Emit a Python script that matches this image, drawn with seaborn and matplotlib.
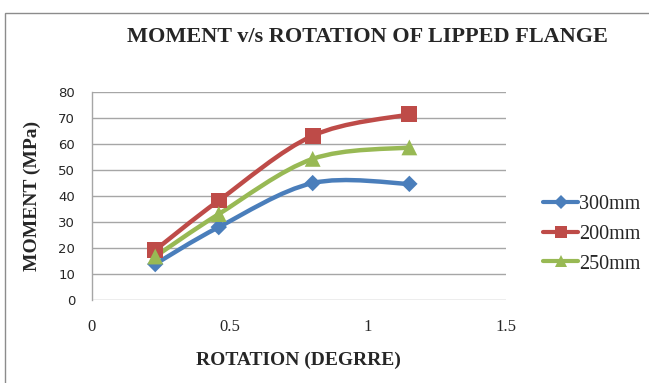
import numpy as np
import pandas as pd
import seaborn as sns
import matplotlib
matplotlib.use("Agg")
import matplotlib.pyplot as plt
from matplotlib.path import Path
from matplotlib.patches import PathPatch, Rectangle
from matplotlib.lines import Line2D

# Moment-rotation readings for lipped flange sections
rotation = [0.23, 0.46, 0.80, 1.15]
moment_300 = [13.8, 28.0, 44.9, 44.6]
moment_200 = [19.2, 38.2, 63.1, 71.3]
moment_250 = [16.7, 33.0, 54.2, 58.6]
series_names = ["300mm", "200mm", "250mm"]
x_ticks = [0, 0.5, 1, 1.5]
y_ticks = [0, 10, 20, 30, 40, 50, 60, 70, 80]

colors = {"300mm": "#4A7EBB", "200mm": "#BE4B48", "250mm": "#98B954"}
markers = {"300mm": "D", "200mm": "s", "250mm": "^"}
msizes = {"300mm": 70, "200mm": 130, "250mm": 130}

df = pd.DataFrame({
    "rotation": rotation * 3,
    "moment": moment_300 + moment_200 + moment_250,
    "series": [s for s in series_names for _ in rotation],
})

sns.set_style("white")
serif = ["Liberation Serif", "DejaVu Serif"]

fig = plt.figure(figsize=(6.49, 3.83), dpi=100)
ax = fig.add_axes([0.1413, 0.2167, 0.7797 - 0.1413, 0.7606 - 0.2167])

# outer chart frame (runs off the right and bottom edges)
fig.patches.append(Rectangle((4.5 / 649, -0.1), 1.2, 1.1 - 12.5 / 383, transform=fig.transFigure,
                             fill=False, edgecolor="#8C8C8C", linewidth=1.0, zorder=0))


def smooth_path(xs, ys):
    """Catmull-Rom style Bezier path through the points (spreadsheet smoothing)."""
    pts = np.column_stack([xs, ys]).astype(float)
    n = len(pts)
    verts = [pts[0]]
    codes = [Path.MOVETO]
    for i in range(n - 1):
        p0 = pts[i - 1] if i > 0 else pts[i]
        p1 = pts[i]
        p2 = pts[i + 1]
        p3 = pts[i + 2] if i + 2 < n else pts[i + 1]
        c1 = p1 + (p2 - p0) / 6.0
        c2 = p2 - (p3 - p1) / 6.0
        verts += [c1, c2, p2]
        codes += [Path.CURVE4] * 3
    return Path(verts, codes)


for name in series_names:
    sub = df[df["series"] == name]
    path = smooth_path(sub["rotation"].values, sub["moment"].values)
    ax.add_patch(PathPatch(path, facecolor="none", edgecolor=colors[name],
                           linewidth=3.2, capstyle="round", joinstyle="round", zorder=3))

sns.scatterplot(data=df, x="rotation", y="moment", hue="series", style="series",
                palette=colors, markers=markers, size="series", sizes=msizes,
                edgecolor="none", legend=False, ax=ax, zorder=4)

ax.set_xlim(0, 1.5)
ax.set_ylim(0, 80)
ax.set_xticks(x_ticks)
ax.set_xticklabels(["0", "0.5", "1", "1.5"], fontfamily=serif, fontsize=12)
ax.set_yticks(y_ticks)
ax.set_yticklabels([str(v) for v in y_ticks], fontfamily="DejaVu Sans", fontsize=9.5)
ax.tick_params(axis="x", length=0, pad=14)
ax.tick_params(axis="y", length=0, pad=12)
ax.yaxis.grid(True, color="#A6A6A6", linewidth=1.0)
ax.xaxis.grid(False)
for side in ["top", "right", "bottom"]:
    ax.spines[side].set_visible(False)
ax.spines["left"].set_color("#A6A6A6")
ax.spines["left"].set_linewidth(1.0)

ax.set_xlabel("ROTATION (DEGRRE)", fontfamily=serif, fontweight="bold", fontsize=14, labelpad=12)
ax.set_ylabel("MOMENT (MPa)", fontfamily=serif, fontweight="bold", fontsize=14, labelpad=12)

fig.text(367 / 649, 1 - 37 / 383, "MOMENT v/s ROTATION OF LIPPED FLANGE",
         fontfamily=serif, fontweight="bold", fontsize=16, ha="center", va="center")

handles = [Line2D([0], [0], color=colors[n], linewidth=3, marker=markers[n],
                  markersize=9 if n != "300mm" else 7, markeredgewidth=0) for n in series_names]
ax.legend(handles, series_names, loc="center left", bbox_to_anchor=(1.07, 0.315),
          frameon=False, prop={"family": serif, "size": 14.5}, handlelength=1.75,
          handletextpad=0.05, labelspacing=0.52, borderaxespad=0)

fig.savefig("out.png", dpi=100)
